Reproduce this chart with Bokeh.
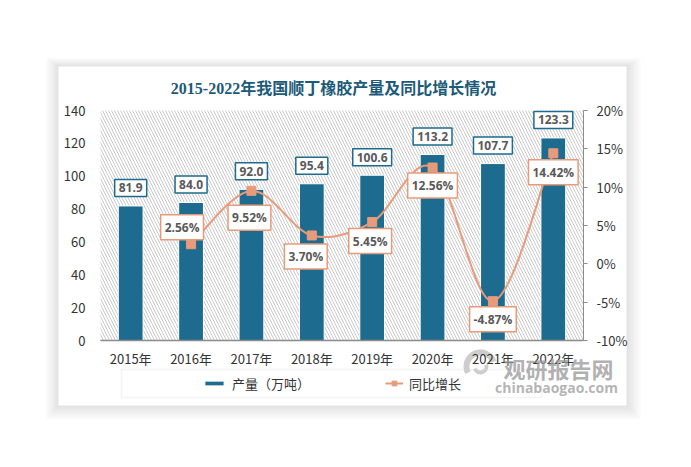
from bokeh.plotting import figure
from bokeh.models import (Range1d, LinearAxis, ColumnDataSource, Label, BoxAnnotation,
                          Legend, LegendItem, FixedTicker, PrintfTickFormatter)
from bokeh.embed import file_html
from bokeh.resources import INLINE
from bokeh.core.properties import value

# ---------------- data ----------------
years = ["2015年", "2016年", "2017年", "2018年", "2019年", "2020年", "2021年", "2022年"]
output = [81.9, 84.0, 92.0, 95.4, 100.6, 113.2, 107.7, 123.3]          # 万吨
growth = [None, 2.56, 9.52, 3.70, 5.45, 12.56, -4.87, 14.42]            # %
left_ticks = [0, 20, 40, 60, 80, 100, 120, 140]
right_ticks = [-10, -5, 0, 5, 10, 15, 20]
title_text = "2015-2022年我国顺丁橡胶产量及同比增长情况"
bar_name = "产量（万吨）"
line_name = "同比增长"
wm_cn = "观研报告网"
wm_en = "chinabaogao.com"

# ---------------- style / layout (pixels) ----------------
BAR = "#1d6b8f"
LINE = "#e89b7b"
TXT = "#595959"
AX = "#333333"
WM = "#9c9c9c"
FONT = "Noto Sans CJK SC"
W, H = 683, 459
PL, PR, PT, PB = 100, 583, 110, 340          # plot area
lab_dx = [-9, -2, -6, -2, 0, 0, 0]
lab_dy = [-17, 27, 21, 19, 18, 18, 19]

ncat = len(years)
xpx = (PR - PL) / ncat
ypx = (PB - PT) / (left_ticks[-1] - left_ticks[0])
rpx = (PB - PT) / (right_ticks[-1] - right_ticks[0])


def X(px):
    return -0.5 + (px - PL) / xpx


def Y(py):
    return left_ticks[0] + (PB - py) / ypx


p = figure(width=W, height=H, output_backend="svg", toolbar_location=None, title=None,
           x_range=Range1d(X(0), X(W)), y_range=Range1d(Y(H), Y(0)),
           min_border=0, min_border_left=0, min_border_right=0, min_border_top=0, min_border_bottom=0)
p.extra_y_ranges = {"pct": Range1d(right_ticks[0] - (H - PB) / rpx, right_ticks[-1] + PT / rpx)}
p.outline_line_color = None
p.xgrid.visible = False
p.ygrid.visible = False
p.background_fill_color = "white"
p.border_fill_color = "white"

# card shadow + card
cx0, cx1, cy0, cy1 = 58, 626, 66, 405
for k in range(7, 0, -1):
    p.add_layout(BoxAnnotation(left=X(cx0 - k * 1.8), right=X(cx1 + k * 2.0), top=Y(cy0 - k * 1.2),
                               bottom=Y(cy1 + k * 2.0), fill_color="#000000", fill_alpha=0.016,
                               line_color=None, level="underlay"))
p.add_layout(BoxAnnotation(left=X(cx0), right=X(cx1), top=Y(cy0), bottom=Y(cy1),
                           fill_color="white", fill_alpha=1, line_color=None, level="underlay"))
# hatched plot area
p.add_layout(BoxAnnotation(left=-0.5, right=ncat - 0.5, bottom=left_ticks[0], top=left_ticks[-1],
                           fill_color="white", fill_alpha=1, line_color=None,
                           hatch_pattern="\\", hatch_color="#c9c9c9", hatch_scale=6, hatch_weight=1,
                           level="underlay"))

# watermark logo
p.annular_wedge(x=[X(480)], y=[Y(366)], inner_radius=11, outer_radius=17, inner_radius_units="screen",
                outer_radius_units="screen", start_angle=0.35, end_angle=3.6, fill_color=WM,
                fill_alpha=0.5, line_color=None)
p.annular_wedge(x=[X(480)], y=[Y(366)], inner_radius=4, outer_radius=8, inner_radius_units="screen",
                outer_radius_units="screen", start_angle=3.5, end_angle=6.6, fill_color=WM,
                fill_alpha=0.5, line_color=None)

idx = list(range(ncat))
src = ColumnDataSource(dict(x=idx, y=output, t=["%.1f" % v for v in output]))
bars = p.vbar(x="x", top="y", bottom=0, width=0.41, source=src, fill_color=BAR,
              line_color="white", line_width=1)

gx = [i for i, g in enumerate(growth) if g is not None]
gy = [g for g in growth if g is not None]
n = len(gx)
tt = 1.0 / 6
bz = dict(x0=[], y0=[], x1=[], y1=[], cx0=[], cy0=[], cx1=[], cy1=[])
for i in range(n - 1):
    a = i - 1 if i > 0 else i
    b = i + 2 if i + 2 < n else i + 1
    bz["x0"].append(gx[i]); bz["y0"].append(gy[i])
    bz["x1"].append(gx[i + 1]); bz["y1"].append(gy[i + 1])
    bz["cx0"].append(gx[i] + (gx[i + 1] - gx[a]) * tt)
    bz["cy0"].append(gy[i] + (gy[i + 1] - gy[a]) * tt)
    bz["cx1"].append(gx[i + 1] - (gx[b] - gx[i]) * tt)
    bz["cy1"].append(gy[i + 1] - (gy[b] - gy[i]) * tt)
p.bezier(source=ColumnDataSource(bz), x0="x0", y0="y0", x1="x1", y1="y1", cx0="cx0", cy0="cy0",
         cx1="cx1", cy1="cy1", line_color=LINE, line_width=2, y_range_name="pct")
# single-point line: invisible in the chart, gives the legend its line sample
legline = p.line(x=gx[:1], y=gy[:1], line_color=LINE, line_width=2, y_range_name="pct")
gsrc = ColumnDataSource(dict(x=gx, y=gy, t=["%.2f%%" % v for v in gy], dx=lab_dx, dy=lab_dy))
marks = p.scatter(x="x", y="y", source=gsrc, marker="square", size=9, fill_color=LINE,
                  line_color=LINE, y_range_name="pct")

# data labels
p.text(x="x", y="y", text="t", source=src, text_align="center", text_baseline="middle",
       y_offset=-18, text_font=value("Open Sans"), text_font_style="bold", text_font_size="12px",
       text_color=TXT, background_fill_color="white", border_line_color=BAR, border_line_width=1.5,
       padding=4)
p.text(x="x", y="y", text="t", source=gsrc, text_align="center", text_baseline="middle",
       x_offset="dx", y_offset="dy", text_font=value("Open Sans"), text_font_style="bold",
       text_font_size="12px", text_color=TXT, background_fill_color="white",
       border_line_color=LINE, border_line_width=1.5, padding=4, y_range_name="pct")

# axes (fixed to the plot-area edges)
la = p.yaxis[0]
la.fixed_location = -0.5
la.bounds = (left_ticks[0], left_ticks[-1])
la.ticker = FixedTicker(ticks=left_ticks)
la.axis_line_color = None
la.major_tick_line_color = None
la.major_tick_out = 0
la.major_tick_in = 0
la.minor_tick_line_color = None
la.major_label_standoff = 15
la.major_label_text_font = FONT
la.major_label_text_font_size = "13px"
la.major_label_text_color = AX

ra = LinearAxis(y_range_name="pct", ticker=FixedTicker(ticks=right_ticks),
                formatter=PrintfTickFormatter(format="%d%%"))
ra.fixed_location = ncat - 0.5
ra.bounds = (right_ticks[0], right_ticks[-1])
ra.axis_line_color = "#8c8c8c"
ra.major_tick_line_color = "#8c8c8c"
ra.major_tick_in = 0
ra.major_tick_out = 4
ra.minor_tick_line_color = None
ra.major_label_standoff = 9
ra.major_label_text_font = FONT
ra.major_label_text_font_size = "13px"
ra.major_label_text_color = AX
p.add_layout(ra, "right")

ba = p.xaxis[0]
ba.fixed_location = left_ticks[0]
ba.bounds = (-0.5, ncat - 0.5)
ba.ticker = FixedTicker(ticks=idx)
ba.major_label_overrides = {i: y for i, y in enumerate(years)}
ba.axis_line_color = "#8c8c8c"
ba.axis_line_width = 1.5
ba.major_tick_line_color = None
ba.major_tick_out = 0
ba.major_tick_in = 0
ba.minor_tick_line_color = None
ba.major_label_standoff = 8
ba.major_label_text_font = FONT
ba.major_label_text_font_size = "13px"
ba.major_label_text_color = AX

# title
p.add_layout(Label(x=X(333), y=Y(88), text=title_text,
                   text_align="center", text_baseline="middle",
                   text_font="'Liberation Serif', 'Noto Sans CJK SC'",
                   text_font_style="bold", text_font_size="16px", text_color="#1d5a78"))

# legend box + legends
p.add_layout(BoxAnnotation(left=X(121), right=X(541), top=Y(369), bottom=Y(397),
                           fill_alpha=0, line_color="#d9d9d9", line_width=1.5))
common = dict(orientation="horizontal", border_line_color=None, background_fill_alpha=0,
              label_text_font=FONT, label_text_font_size="13px", label_text_color=AX,
              padding=0, margin=0, label_standoff=6, label_height=20)
leg1 = Legend(items=[LegendItem(label=bar_name, renderers=[bars])], location=(202, H - 393),
              glyph_width=24, glyph_height=6, **common)
leg2 = Legend(items=[LegendItem(label=line_name, renderers=[legline, marks])], location=(385, H - 393),
              glyph_width=18, glyph_height=12, **common)
p.add_layout(leg1, "center")
p.add_layout(leg2, "center")

# watermark text
p.add_layout(Label(x=X(558), y=Y(367), text=wm_cn, text_align="center", text_baseline="middle",
                   text_font=FONT, text_font_style="bold", text_font_size="22px",
                   text_color=WM, text_alpha=0.8))
p.add_layout(Label(x=X(556), y=Y(387), text=wm_en, text_align="center", text_baseline="middle",
                   text_font="Open Sans", text_font_style="bold", text_font_size="14px",
                   text_color=WM, text_alpha=0.75))

open("out.html", "w").write(file_html(p, INLINE))
